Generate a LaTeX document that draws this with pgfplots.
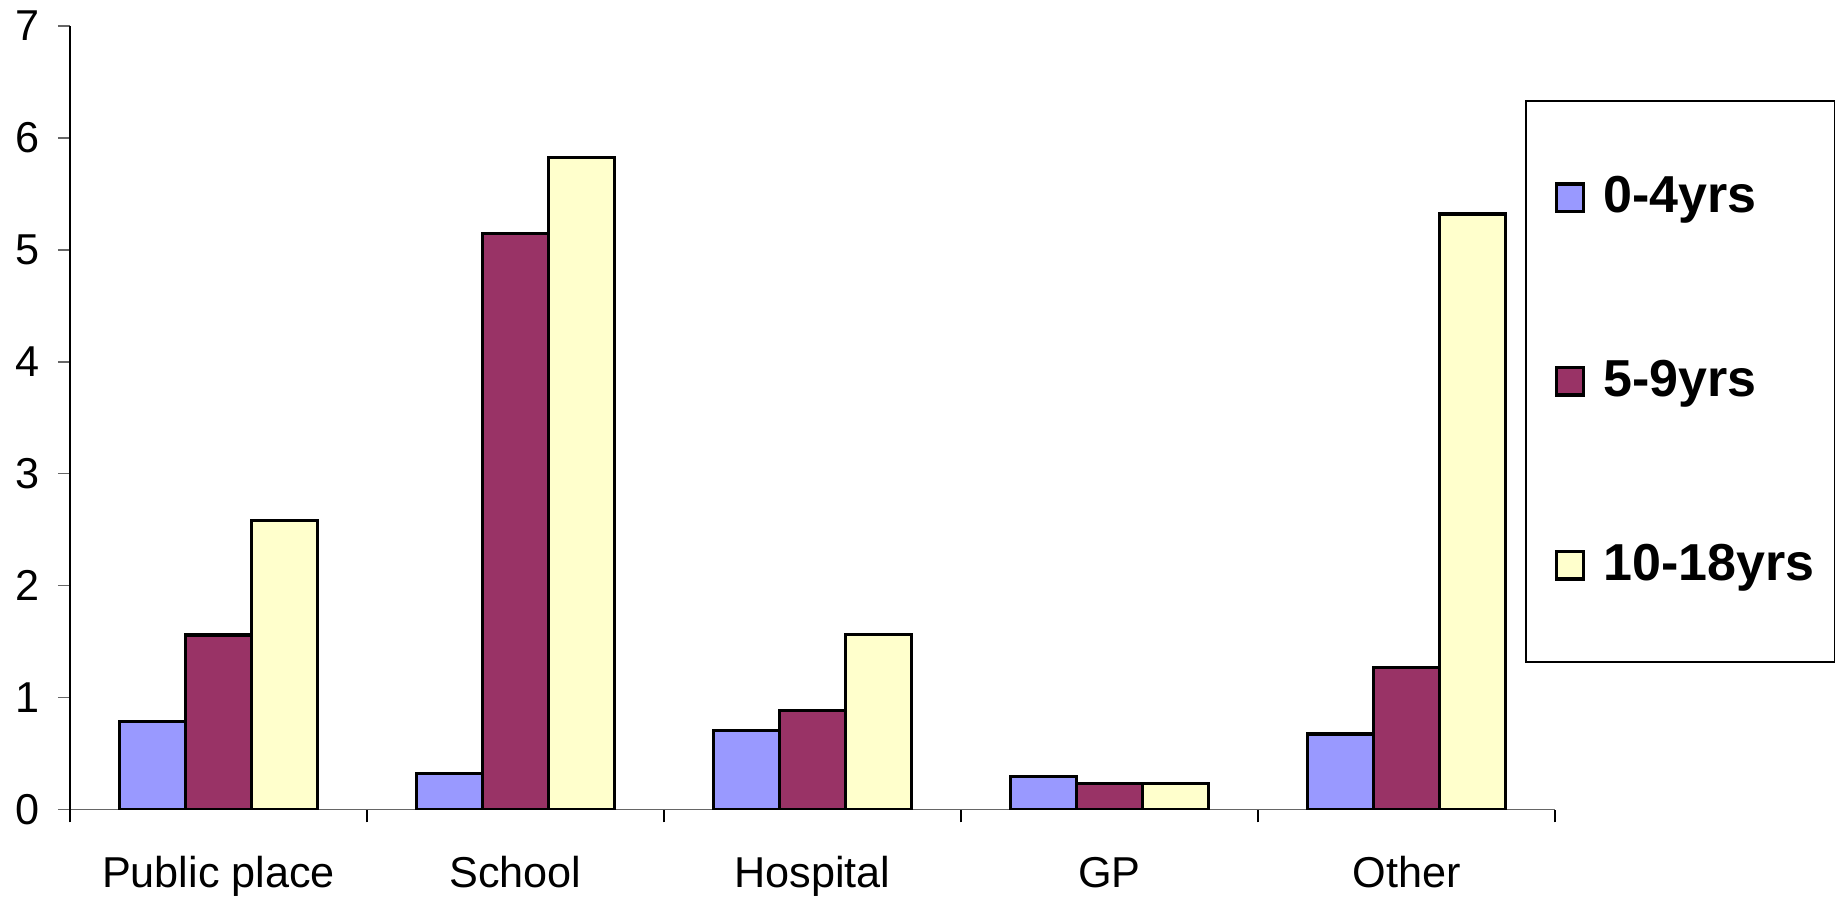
\documentclass[border=0pt]{standalone}
\usepackage{pgfplots}
\pgfplotsset{compat=1.18}
\usepackage{fontspec}
\setmainfont{Liberation Sans}

\definecolor{cblue}{HTML}{9999FF}
\definecolor{cred}{HTML}{993366}
\definecolor{cyellow}{HTML}{FFFFCC}

\begin{document}
\begin{tikzpicture}[font=\fontsize{10.8}{13}\selectfont]
  \begin{axis}[
      at={(0,0)}, anchor=south west,
      scale only axis,
      width=371.25pt, height=195.95pt,
      ybar=0pt,
      bar width=16.56pt,
      xmin=-0.5, xmax=4.5,
      ymin=0, ymax=7,
      ytick={0,1,...,7},
      xtick={0,1,2,3,4},
      xticklabels={Public place,School,Hospital,GP,Other},
      minor xtick={-0.5,0.5,1.5,2.5,3.5,4.5},
      major x tick style={draw=none},
      minor x tick style={black, thin},
      y tick style={gray!80!black, thin},
      tick align=outside,
      major tick length=3pt,
      minor tick length=3.2pt,
      axis x line*=bottom,
      axis y line*=left,
      x axis line style={gray!80!black, thin},
      y axis line style={black, thin},
      /pgf/number format/assume math mode=true,
      xticklabel style={anchor=base, yshift=-16.4pt},
      yticklabel style={anchor=east, xshift=-1pt},
      legend style={
        at={(0.9798,0.9054)}, anchor=north west,
        draw=black, thin, fill=white,
        font=\fontsize{13}{15}\selectfont\bfseries,
        inner xsep=3pt, inner ysep=16.9pt,
        row sep=31.4pt,
        cells={anchor=west},
      },
      legend image code/.code={
        \path (-4.2pt,0pt) (9.4pt,0pt);
        \draw[#1, line width=0.8pt] (0pt,-3.4pt) rectangle (6.75pt,3.4pt);
      },
      every axis plot/.append style={draw=black, line width=0.8pt},
    ]
    \addplot[fill=cblue] coordinates {(0,0.79) (1,0.32) (2,0.705) (3,0.294) (4,0.675)};
    \addplot[fill=cred] coordinates {(0,1.56) (1,5.146) (2,0.883) (3,0.235) (4,1.267)};
    \addplot[fill=cyellow] coordinates {(0,2.58) (1,5.824) (2,1.565) (3,0.235) (4,5.32)};
    \legend{0-4yrs,5-9yrs,10-18yrs}
  \end{axis}
  \pgfresetboundingbox
  \useasboundingbox (-17.5pt,-21.85pt) rectangle (441.75pt,202.4pt);
\end{tikzpicture}
\end{document}
